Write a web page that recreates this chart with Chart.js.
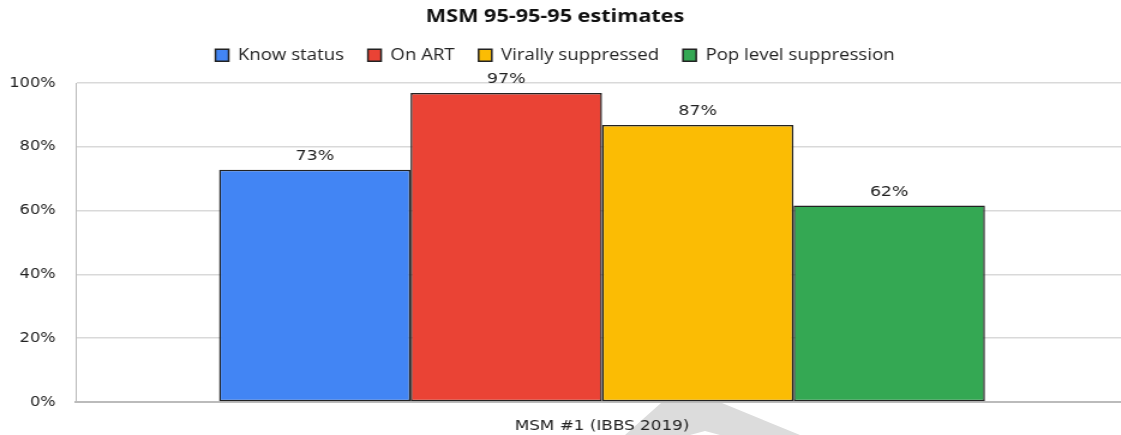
<!DOCTYPE html>
<html>
<head>
<meta charset="utf-8">
<script src="https://cdn.jsdelivr.net/npm/chart.js@4/dist/chart.umd.min.js"></script>
<style>
  html, body { margin: 0; padding: 0; background: #fff; overflow: hidden; }
  #wrap { position: relative; width: 1121px; height: 435px; overflow: hidden; }
  #mark { position: absolute; left: 0; top: 0; width: 1121px; height: 435px; background: #dcdcdc;
          clip-path: polygon(625px 435px, 661px 403px, 722px 403px, 800px 435px, 720px 435px, 705px 431px, 690px 435px); }
  canvas { position: absolute; left: 0; top: 0; transform: scaleX(1.2); transform-origin: 0 0; }
</style>
</head>
<body>
<div id="wrap">
  <div id="mark"></div>
  <canvas id="c" width="955" height="435"></canvas>
</div>
<script>
const categories = ["MSM #1 (IBBS 2019)"];
const seriesNames = ["Know status", "On ART", "Virally suppressed", "Pop level suppression"];
const knowStatus = [72.8];
const onART = [96.9];
const virallySuppressed = [86.9];
const popLevelSuppression = [61.6];
const seriesColors = ["#4285F4", "#EA4335", "#FBBC04", "#34A853"];
const yTicks = [0, 20, 40, 60, 80, 100];

const seriesValues = [knowStatus, onART, virallySuppressed, popLevelSuppression];

const labelPlugin = {
  id: 'barLabels',
  afterDatasetsDraw(chart) {
    const ctx = chart.ctx;
    ctx.save();
    ctx.font = '14.5px "DejaVu Sans"';
    ctx.fillStyle = '#222';
    ctx.textAlign = 'center';
    ctx.textBaseline = 'alphabetic';
    chart.data.datasets.forEach((ds, i) => {
      chart.getDatasetMeta(i).data.forEach((bar, j) => {
        ctx.fillText(Math.round(ds.data[j]) + '%', bar.x, bar.y - 9.5);
      });
    });
    ctx.restore();
  }
};

new Chart(document.getElementById('c'), {
  type: 'bar',
  data: {
    labels: categories,
    datasets: seriesNames.map((name, i) => ({
      label: name,
      data: seriesValues[i],
      backgroundColor: seriesColors[i],
      borderColor: '#222',
      borderWidth: 1.5,
      borderSkipped: false,
      barPercentage: 1,
      categoryPercentage: 0.728
    }))
  },
  options: {
    responsive: false,
    animation: false,
    devicePixelRatio: 1,
    layout: { padding: { left: -15, right: 15, top: 0, bottom: 0 } },
    plugins: {
      title: {
        display: true,
        text: 'MSM 95-95-95 estimates',
        color: '#111',
        font: { family: '"Open Sans"', size: 18, weight: 'bold' },
        padding: { top: 6, bottom: 0 }
      },
      legend: {
        display: true,
        labels: {
          color: '#222',
          font: { family: '"Open Sans"', size: 15.5 },
          boxWidth: 11,
          boxHeight: 12,
          padding: 20
        }
      },
      tooltip: { enabled: false }
    },
    scales: {
      xTop: {
        type: 'category',
        position: 'top',
        labels: categories,
        grid: { display: false },
        border: { display: false },
        ticks: { display: false },
        afterFit(scale) { scale.height = 10; }
      },
      x: {
        grid: { display: false },
        border: { color: '#bbb', width: 2 },
        ticks: { color: '#222', font: { family: '"DejaVu Sans"', size: 14 }, padding: 8 },
        afterFit(scale) { scale.height = 33; }
      },
      y: {
        min: 0,
        max: 100,
        afterBuildTicks(scale) { scale.ticks = yTicks.map(v => ({ value: v })); },
        grid: { color: '#d9d9d9', lineWidth: 1.5, drawTicks: false },
        border: { color: '#bbb', width: 1 },
        ticks: {
          color: '#222',
          font: { family: '"DejaVu Sans"', size: 13.5 },
          padding: 17,
          callback: v => v + '%'
        },
        afterFit(scale) { scale.width = 76 / 1.2 + 15; }
      }
    }
  },
  plugins: [labelPlugin]
});
</script>
</body>
</html>
